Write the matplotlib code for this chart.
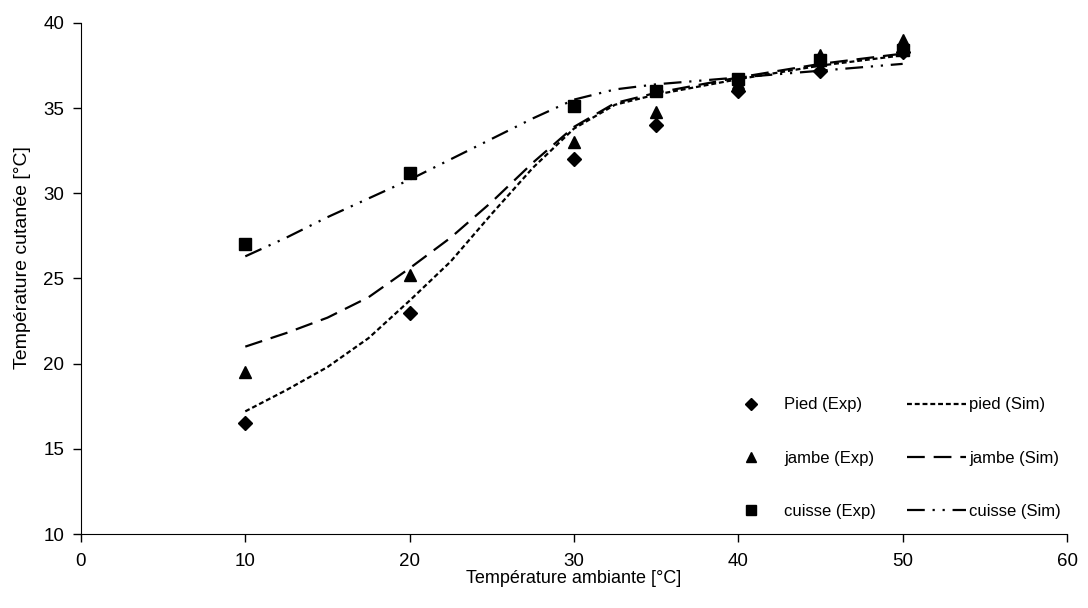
import matplotlib.pyplot as plt

# données expérimentales
temp_exp = [10, 20, 30, 35, 40, 45, 50]
pied_exp = [16.5, 23.0, 32.0, 34.0, 36.0, 37.2, 38.3]
jambe_exp = [19.5, 25.2, 33.0, 34.8, 36.5, 38.1, 39.0]
cuisse_exp = [27.0, 31.2, 35.1, 36.0, 36.7, 37.8, 38.4]

# courbes simulées
temp_sim = [10, 12.5, 15, 17.5, 20, 22.5, 25, 27.5, 30, 32.5, 35, 40, 45, 50]
pied_sim = [17.2, 18.45, 19.8, 21.5, 23.7, 26.0, 28.8, 31.5, 33.8, 35.2, 35.8, 36.7, 37.5, 38.1]
jambe_sim = [21.0, 21.8, 22.7, 23.9, 25.6, 27.4, 29.5, 31.8, 33.9, 35.3, 35.9, 36.8, 37.6, 38.2]
cuisse_sim = [26.3, 27.4, 28.6, 29.7, 30.8, 32.0, 33.2, 34.4, 35.5, 36.1, 36.4, 36.8, 37.2, 37.6]

plt.rcParams['font.family'] = ['Liberation Sans', 'DejaVu Sans']

fig = plt.figure(figsize=(10.88, 6.08), dpi=100)
ax = fig.add_axes([0.0744, 0.1217, 0.9063, 0.8405])

h1, = ax.plot(temp_exp, pied_exp, 'D', color='black', markersize=7, zorder=3, label='Pied (Exp)')
h2, = ax.plot(temp_exp, jambe_exp, '^', color='black', markersize=9, zorder=3, label='jambe (Exp)')
h3, = ax.plot(temp_exp, cuisse_exp, 's', color='black', markersize=9, zorder=3, label='cuisse (Exp)')
h4, = ax.plot(temp_sim, pied_sim, color='black', lw=1.6, dashes=(2.2, 1.3), label='pied (Sim)')
h5, = ax.plot(temp_sim, jambe_sim, color='black', lw=1.6, dashes=(8, 4), label='jambe (Sim)')
h6, = ax.plot(temp_sim, cuisse_sim, color='black', lw=1.6,
              dashes=(8, 3.5, 1, 3.5, 1, 3.5), label='cuisse (Sim)')

ax.set_xlim(0, 60)
ax.set_ylim(10, 40)
ax.set_xticks(range(0, 61, 10))
ax.set_yticks(range(10, 41, 5))
ax.spines['top'].set_visible(False)
ax.spines['right'].set_visible(False)
ax.tick_params(direction='out', length=6, width=1)
ax.tick_params(axis='y', labelsize=13.5, pad=6)
ax.tick_params(axis='x', labelsize=13.5, pad=8)

ax.set_xlabel("Température ambiante [°C]", fontsize=13, labelpad=0)
ax.set_ylabel("Température cutanée [°C]", fontsize=14)
ax.yaxis.set_label_coords(-0.051, 0.54)

leg = ax.legend(handles=[h1, h2, h3, h4, h5, h6], ncol=2, frameon=False,
                loc='lower right', bbox_to_anchor=(1.009, 0.0),
                prop={'size': 12},
                handlelength=3.5, handletextpad=0.2, labelspacing=2.3,
                columnspacing=1.9, markerscale=0.85)

fig.savefig('out.png', dpi=100)
